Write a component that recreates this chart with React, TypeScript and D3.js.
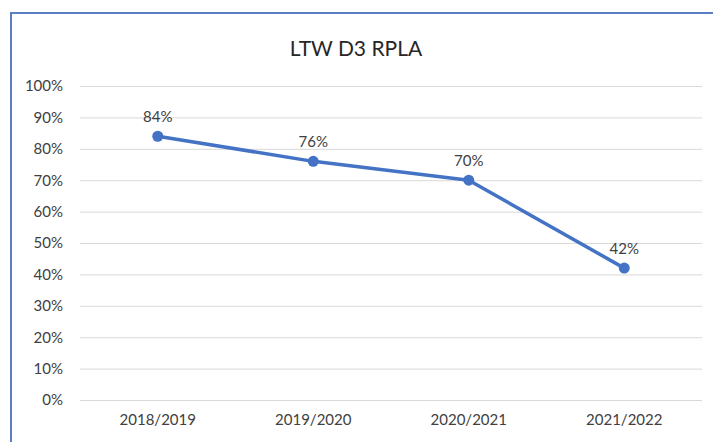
import * as d3 from "d3"
import { useEffect, useRef } from "react"

const years = ["2018/2019", "2019/2020", "2020/2021", "2021/2022"]
const rates = [84, 76, 70, 42]
const yTicks = [0, 10, 20, 30, 40, 50, 60, 70, 80, 90, 100]
const chartTitle = "LTW D3 RPLA"

export default function App() {
  const svgRef = useRef<SVGSVGElement>(null)

  useEffect(() => {
    const width = 713
    const height = 442
    const margin = { top: 86, left: 80, right: 11, bottom: 42 }
    const font = "Lato, 'Open Sans', sans-serif"

    const svg = d3.select(svgRef.current)
    svg.selectAll("*").remove()

    // white background + the chart frame (runs off the right and bottom edges)
    svg.append("rect").attr("width", width).attr("height", height).attr("fill", "#fff")
    svg.append("rect")
      .attr("x", 11).attr("y", 13)
      .attr("width", width + 20).attr("height", height + 20)
      .attr("fill", "none").attr("stroke", "#5a7fc2").attr("stroke-width", 2)

    const x = d3.scaleBand().domain(years).range([margin.left, width - margin.right])
    const y = d3.scaleLinear().domain([0, 100]).range([height - margin.bottom, margin.top])

    // title
    svg.append("text")
      .attr("x", 356).attr("y", 56)
      .attr("text-anchor", "middle")
      .attr("font-family", font).attr("font-size", 21)
      .attr("fill", "#262626")
      .text(chartTitle)

    // grid
    const yAxis = d3.axisLeft(y)
      .tickValues(yTicks)
      .tickSize(-(width - margin.left - margin.right))
      .tickPadding(17)
      .tickFormat(d => `${d}%`)

    const gy = svg.append("g")
      .attr("transform", `translate(${margin.left},0)`)
      .call(yAxis)
    gy.select(".domain").remove()
    gy.selectAll("line").attr("stroke", "#d9d9d9").attr("stroke-width", 1)
    gy.selectAll("text")
      .attr("font-family", font).attr("font-size", 15).attr("fill", "#404040")

    // x labels
    const xAxis = d3.axisBottom(x).tickSize(0).tickPadding(14)
    const gx = svg.append("g")
      .attr("transform", `translate(0,${height - margin.bottom})`)
      .call(xAxis)
    gx.select(".domain").remove()
    gx.selectAll("text")
      .attr("font-family", font).attr("font-size", 15).attr("fill", "#404040")

    const cx = (d: string) => (x(d) ?? 0) + x.bandwidth() / 2

    // line
    const line = d3.line<number>()
      .x((_, i) => cx(years[i]))
      .y(d => y(d))
    svg.append("path")
      .datum(rates)
      .attr("d", line)
      .attr("fill", "none")
      .attr("stroke", "#4472c4")
      .attr("stroke-width", 3.5)
      .attr("stroke-linejoin", "round")

    svg.append("g")
      .selectAll("circle")
      .data(rates)
      .enter()
      .append("circle")
      .attr("cx", (_, i) => cx(years[i]))
      .attr("cy", d => y(d))
      .attr("r", 5.5)
      .attr("fill", "#4472c4")

    // value labels
    svg.append("g")
      .selectAll("text")
      .data(rates)
      .enter()
      .append("text")
      .attr("x", (_, i) => cx(years[i]))
      .attr("y", d => y(d) - 14)
      .attr("text-anchor", "middle")
      .attr("font-family", font).attr("font-size", 15).attr("fill", "#404040")
      .text(d => `${d}%`)
  }, [])

  return (
    <svg ref={svgRef} width={713} height={442}
      style={{ position: "absolute", left: 0, top: 0, display: "block" }} />
  )
}
